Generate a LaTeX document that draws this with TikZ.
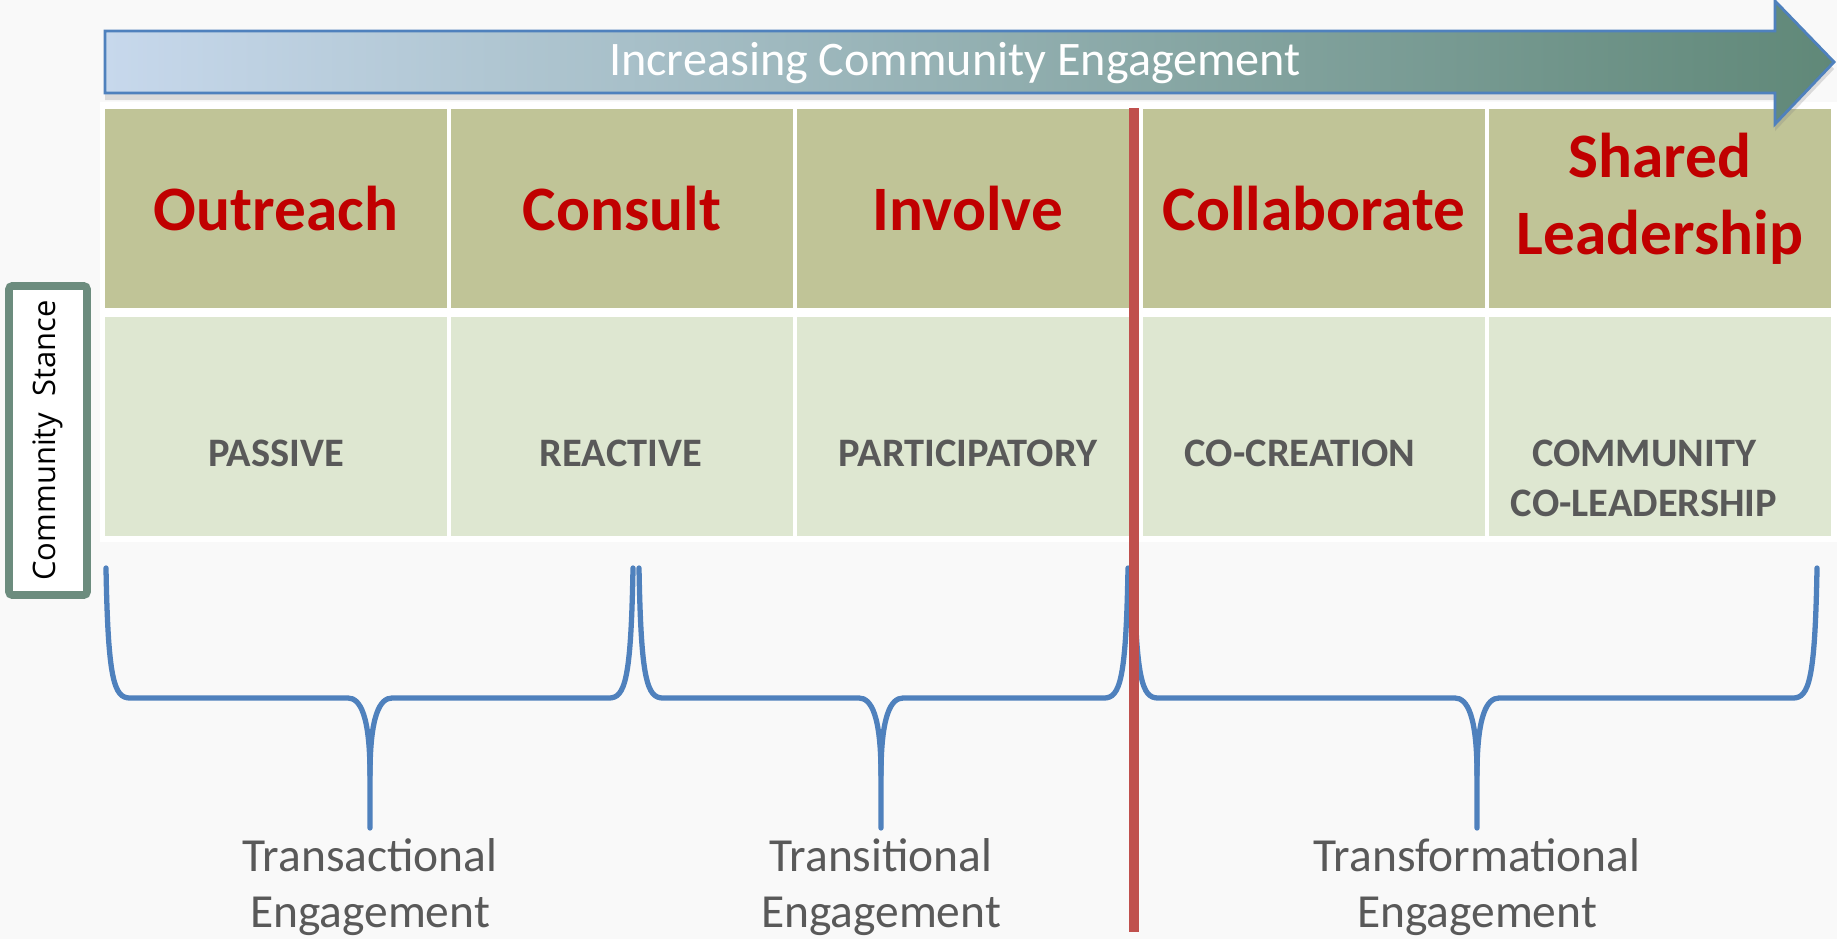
\documentclass[tikz,border=0pt]{standalone}
\usepackage{fontspec}
\setmainfont{Carlito}
\newfontfamily\stancefont{Open Sans}
\usetikzlibrary{shadows}

\definecolor{headolive}{RGB}{192,196,151}
\definecolor{stancegreen}{RGB}{222,231,209}
\definecolor{stagered}{RGB}{192,0,0}
\definecolor{labelgray}{RGB}{89,89,89}
\definecolor{braceblue}{RGB}{79,129,189}
\definecolor{splitred}{RGB}{192,80,77}
\definecolor{boxgreen}{RGB}{108,140,126}
\definecolor{arrowleft}{RGB}{199,216,236}
\definecolor{arrowmid}{RGB}{163,186,212}
\definecolor{arrowright}{RGB}{96,136,120}
\definecolor{pagegray}{RGB}{249,249,249}

\tikzset{
  headcell/.style={fill=headolive, minimum width=3.42cm, minimum height=1.99cm, inner sep=0pt,
    text=stagered, font=\fontsize{18}{22}\selectfont\bfseries, align=center},
  stancecell/.style={fill=stancegreen, minimum width=3.42cm, minimum height=2.19cm, inner sep=0pt},
  stancetext/.style={anchor=north, inner sep=0pt, text=labelgray,
    font=\fontsize{11.5}{14.2}\selectfont\bfseries, align=center},
  engtext/.style={anchor=north, inner sep=0pt, text=labelgray,
    font=\fontsize{13.5}{16}\selectfont, align=center},
  stancebox/.style={draw=boxgreen, fill=white, line width=2.2pt, rounded corners=1pt, rotate=90,
    minimum width=3.09cm, minimum height=0.78cm, inner sep=0pt,
    font=\stancefont\fontsize{8.8}{10}\selectfont},
  bracepath/.style={draw=braceblue, line width=1.5pt, line join=round, line cap=round},
}

% brace: left end, tip, right end
\newcommand{\engbrace}[3]{%
  \draw[bracepath] (#1,568) .. controls (#1+2,680) and (#1+8,698) .. (#1+24,698) -- (#2-22,698)
    .. controls (#2-10,698) and (#2,715) .. (#2,775) -- (#2,828);
  \draw[bracepath] (#2,775) .. controls (#2,715) and (#2+10,698) .. (#2+22,698) -- (#3-24,698)
    .. controls (#3-8,698) and (#3-2,680) .. (#3,568);
}

\begin{document}
\begin{tikzpicture}[x=0.01cm,y=-0.01cm]
  \fill[pagegray] (0,0) rectangle (1837,939);
  \useasboundingbox (0,0) rectangle (1837,939);
  \fill[white] (100,102) rectangle (1837,542); % table ground

  % stages
  \node[headcell] (outreach) at (276,208.5) {Outreach};
  \node[headcell] (consult) at (622,208.5) {Consult};
  \node[headcell] (involve) at (968,208.5) {Involve};
  \node[headcell] (collaborate) at (1314,208.5) {Collaborate};
  \node[headcell, text depth=0pt] (shared) at (1660,208.5) {};
  \node[text=stagered, font=\fontsize{18}{22}\selectfont\bfseries, align=center] (sharedtext) at (1660,199) {Shared\\Leadership};

  % stances
  \node[stancecell] (passivecell) at (276,426.5) {};
  \node[stancecell] (reactivecell) at (622,426.5) {};
  \node[stancecell] (participatorycell) at (968,426.5) {};
  \node[stancecell] (cocreationcell) at (1314,426.5) {};
  \node[stancecell] (coleadershipcell) at (1660,426.5) {};
  \node[stancetext] (passive) at (276,439) {PASSIVE};
  \node[stancetext] (reactive) at (621,439) {REACTIVE};
  \node[stancetext] (participatory) at (968,439) {PARTICIPATORY};
  \node[stancetext] (cocreation) at (1300,439) {CO-CREATION};
  \node[stancetext] (coleadership) at (1644,439) {COMMUNITY\\CO-LEADERSHIP};

  % engagement arrow
  \shade[left color=arrowleft, middle color=arrowmid, right color=arrowright, draw=braceblue, line width=0.8pt,
    drop shadow={shadow xshift=0pt, shadow yshift=-2pt, opacity=0.25}]
    (105,31) -- (1775,31) -- (1775,1) -- (1834,62) -- (1775,124) -- (1775,93) -- (105,93) -- cycle;
  \node[text=white, font=\fontsize{13.7}{16}\selectfont] (title) at (955,63) {Increasing Community Engagement};

  \node[stancebox] (stance) at (48,440.5) {Community\ \ Stance};

  % braces
  \engbrace{106}{370}{633}
  \engbrace{639}{881}{1128}
  \engbrace{1134}{1477}{1817}

  \node[engtext] (transactional) at (370,838) {Transactional\\Engagement};
  \node[engtext] (transitional) at (881,838) {Transitional\\Engagement};
  \node[engtext] (transformational) at (1477,838) {Transformational\\Engagement};

  \draw[splitred, line width=0.1cm] (1134,108) -- (1134,932); % divider
\end{tikzpicture}
\end{document}
